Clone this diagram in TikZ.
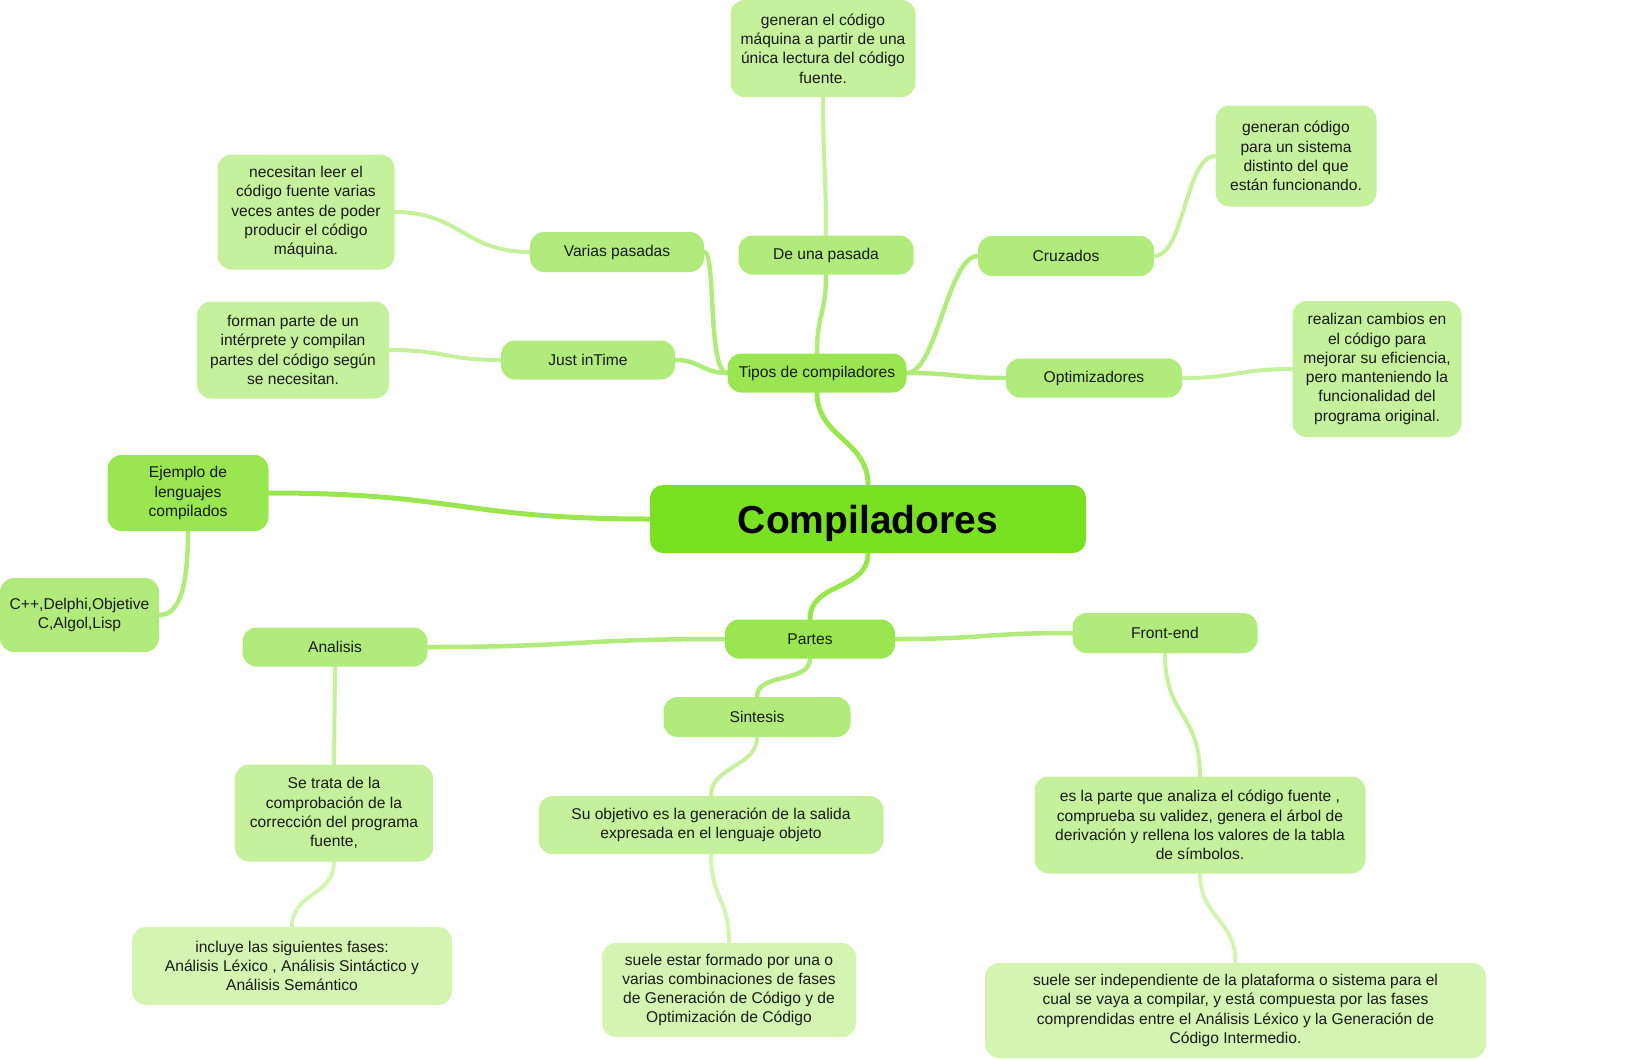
\documentclass[tikz,border=0pt]{standalone}
\usepackage{fontspec}
\setmainfont{Liberation Sans}
\usetikzlibrary{backgrounds}
\definecolor{cRoot}{HTML}{7AE022}
\definecolor{cA}{HTML}{99E650}
\definecolor{cB}{HTML}{B0EB7C}
\definecolor{cC}{HTML}{C5F09C}
\definecolor{cD}{HTML}{D4F4B2}
\definecolor{txt}{HTML}{1A1A1A}
\tikzset{
  box/.style={rounded corners=14pt, align=center, inner sep=0pt, text=txt,
    font=\fontsize{15.6}{19.3}\selectfont},
  bRoot/.style={box, fill=cRoot, rounded corners=13pt, font=\fontsize{39}{44}\selectfont\bfseries, text=black, text depth=0pt},
  bA/.style={box, fill=cA},
  bB/.style={box, fill=cB},
  bC/.style={box, fill=cC},
  bD/.style={box, fill=cD},
  lA/.style={draw=cA, line width=5pt, line cap=round},
  lB/.style={draw=cB, line width=4.5pt, line cap=round},
  lC/.style={draw=cC, line width=4pt, line cap=round},
  lD/.style={draw=cD, line width=4pt, line cap=round},
}
\begin{document}
\begin{tikzpicture}[x=1pt,y=-1pt]
\useasboundingbox (0,0) rectangle (1641,1058);
% root and level 1
\node[bRoot, minimum width=436pt, minimum height=68pt] (root) at (868,519) {Compiladores};
\node[bA, minimum width=179pt, minimum height=39pt] (tipos) at (817,373) {Tipos de compiladores};
\node[bA, minimum width=161pt, minimum height=76pt] (ejemplo) at (188,493) {Ejemplo de\\lenguajes\\compilados};
\node[bA, minimum width=170pt, minimum height=39pt] (partes) at (810,639) {Partes};
% level 2
\node[bB, minimum width=176pt, minimum height=39pt] (opt) at (1094,378) {Optimizadores};
\node[bB, minimum width=176pt, minimum height=40pt] (cruz) at (1066,256) {Cruzados};
\node[bB, minimum width=175pt, minimum height=39pt] (deuna) at (826,255) {De una pasada};
\node[bB, minimum width=174pt, minimum height=40pt] (varias) at (617,252) {Varias pasadas};
\node[bB, minimum width=174pt, minimum height=39pt] (just) at (588,360) {Just inTime};
\node[bB, minimum width=159pt, minimum height=74pt] (cpp) at (79.5,615) {C++,Delphi,Objetive\\C,Algol,Lisp};
\node[bB, minimum width=185pt, minimum height=39pt] (analisis) at (335,647) {Analisis};
\node[bB, minimum width=187pt, minimum height=40pt] (sintesis) at (757,717) {Sintesis};
\node[bB, minimum width=185pt, minimum height=40pt] (front) at (1165,633) {Front-end};
% level 3
\node[bC, minimum width=169pt, minimum height=136pt] (realizan) at (1377,369) {realizan cambios en\\el código para\\mejorar su eficiencia,\\pero manteniendo la\\funcionalidad del\\programa original.};
\node[bC, minimum width=161pt, minimum height=101pt] (gencruz) at (1296,156) {generan código\\para un sistema\\distinto del que\\están funcionando.};
\node[bC, minimum width=185pt, minimum height=97pt] (gen1) at (823,48.5) {generan el código\\máquina a partir de una\\única lectura del código\\fuente.};
\node[bC, minimum width=177pt, minimum height=115pt] (nec) at (306,212) {necesitan leer el\\código fuente varias\\veces antes de poder\\producir el código\\máquina.};
\node[bC, minimum width=192pt, minimum height=97pt] (forman) at (293,350) {forman parte de un\\intérprete y compilan\\partes del código según\\se necesitan.};
\node[bC, minimum width=198pt, minimum height=97pt] (setrata) at (334,813) {Se trata de la\\comprobación de la\\corrección del programa\\fuente,};
\node[bC, minimum width=345pt, minimum height=58pt] (suobj) at (711,825) {Su objetivo es la generación de la salida\\expresada en el lenguaje objeto};
\node[bC, minimum width=331pt, minimum height=97pt] (esla) at (1200,825) {es la parte que analiza el código fuente ,\\comprueba su validez, genera el árbol de\\derivación y rellena los valores de la tabla\\de símbolos.};
% level 4
\node[bD, minimum width=320pt, minimum height=78pt] (incluye) at (292,966) {incluye las siguientes fases:\\Análisis Léxico , Análisis Sintáctico y\\Análisis Semántico};
\node[bD, minimum width=254pt, minimum height=94pt] (sueleestar) at (729,990) {suele estar formado por una o\\varias combinaciones de fases\\de Generación de Código y de\\Optimización de Código};
\node[bD, minimum width=501pt, minimum height=95pt] (sueleser) at (1235.5,1010.5) {suele ser independiente de la plataforma o sistema para el\\cual se vaya a compilar, y está compuesta por las fases\\comprendidas entre el Análisis Léxico y la Generación de\\Código Intermedio.};
% connectors
\begin{scope}[on background layer]
\draw[lA] (root.north) .. controls +(0,-45) and +(0,45) .. (tipos.south);
\draw[lA] (root.west) .. controls +(-190,0) and +(190,0) .. (ejemplo.east);
\draw[lA] (root.south) .. controls +(0,38) and +(0,-38) .. (partes.north);
\draw[lB] (tipos.west) .. controls +(-20,0) and +(12,0) .. (varias.east);
\draw[lB] (tipos.west) .. controls +(-25,0) and +(25,0) .. (just.east);
\draw[lB] (tipos.north) .. controls +(0,-40) and +(0,40) .. (deuna.south);
\draw[lB] (tipos.east) .. controls +(30,0) and +(-30,0) .. (cruz.west);
\draw[lB] (tipos.east) .. controls +(50,0) and +(-50,0) .. (opt.west);
\draw[lB] (ejemplo.south) .. controls +(0,70) and +(15,0) .. (cpp.east);
\draw[lB] (partes.west) .. controls +(-150,0) and +(150,0) .. (analisis.east);
\draw[lB] (partes.east) .. controls +(90,0) and +(-90,0) .. (front.west);
\draw[lB] (partes.south) .. controls +(0,25) and +(0,-25) .. (sintesis.north);
\draw[lC] (opt.east) .. controls +(55,0) and +(-55,0) .. (realizan.west);
\draw[lC] (cruz.east) .. controls +(30,0) and +(-30,0) .. (gencruz.west);
\draw[lC] (deuna.north) .. controls +(0,-60) and +(0,60) .. (gen1.south);
\draw[lC] (varias.west) .. controls +(-65,0) and +(65,0) .. (nec.east);
\draw[lC] (just.west) .. controls +(-55,0) and +(55,0) .. (forman.east);
\draw[lC] (analisis.south) -- (setrata.north);
\draw[lC] (sintesis.south) .. controls +(0,30) and +(0,-30) .. (suobj.north);
\draw[lC] (front.south) .. controls +(0,65) and +(0,-65) .. (esla.north);
\draw[lD] (setrata.south) .. controls +(0,35) and +(0,-35) .. (incluye.north);
\draw[lD] (suobj.south) .. controls +(0,45) and +(0,-45) .. (sueleestar.north);
\draw[lD] (esla.south) .. controls +(0,45) and +(0,-45) .. (sueleser.north);
\end{scope}
\end{tikzpicture}
\end{document}
